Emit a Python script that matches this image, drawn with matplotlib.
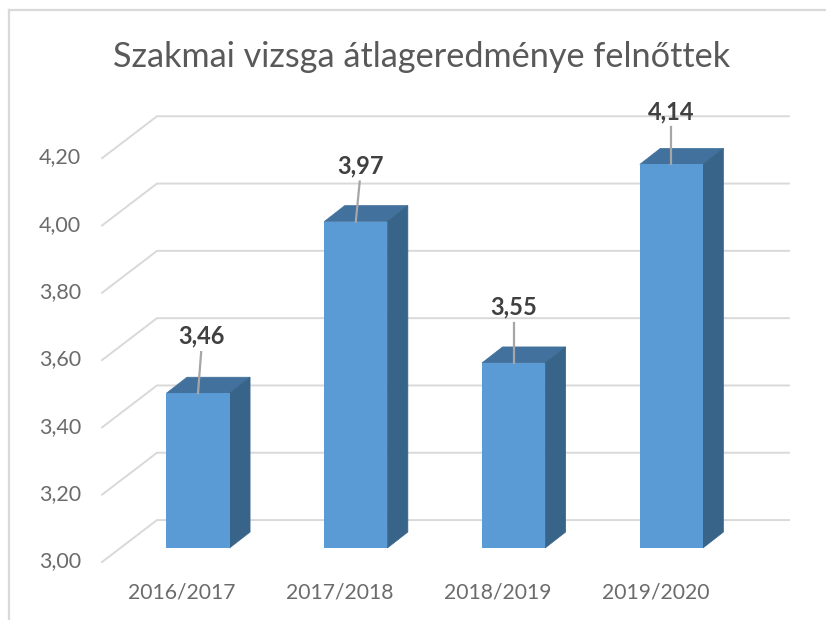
import matplotlib
matplotlib.use('Agg')
import matplotlib.pyplot as plt
from matplotlib.lines import Line2D

plt.rcParams['font.family'] = ['Lato', 'DejaVu Sans']

# data
categories = ['2016/2017', '2017/2018', '2018/2019', '2019/2020']
values = [3.46, 3.97, 3.55, 4.14]
value_labels = ['3,46', '3,97', '3,55', '4,14']
grid_values = [3.0, 3.2, 3.4, 3.6, 3.8, 4.0, 4.2]
grid_labels = ['3,00', '3,20', '3,40', '3,60', '3,80', '4,00', '4,20']

# fake 3D depth, in data units
bar_w = 0.4
bar_dx = 0.13
bar_dy = 0.0475
wall_x0 = -0.608
wall_x1 = -0.26
wall_x2 = 3.745
wall_front = -0.0416
wall_back = 0.083

fig = plt.figure(figsize=(8.26, 6.2), dpi=100, facecolor='white')
ax = fig.add_axes([0, 0, 1, 1])
ax.set_xlim(-1.2548, 3.98)
ax.set_ylim(2.786, 4.6285)
ax.axis('off')

# chart frame
fig.add_artist(Line2D([8.5 / 826, 8.5 / 826], [0, 1 - 10 / 620], color='#d9d9d9', lw=1.6))
fig.add_artist(Line2D([8.5 / 826, 1], [1 - 10 / 620, 1 - 10 / 620], color='#d9d9d9', lw=1.6))

# gridlines on the side wall and back wall
for v, lab in zip(grid_values, grid_labels):
    ax.plot([wall_x0, wall_x1, wall_x2], [v + wall_front, v + wall_back, v + wall_back],
            color='#d9d9d9', lw=1.4, solid_joinstyle='miter', zorder=1)
    ax.text(-0.74, v + wall_front + 0.002, lab, ha='right', va='center', fontsize=15.5, color='#6b6b6b')

for i, (v, cat, lab) in enumerate(zip(values, categories, value_labels)):
    x0 = i - bar_w / 2
    x1 = i + bar_w / 2
    ax.bar(i, v - 3.0, bottom=3.0, width=bar_w, color='#5b9bd5', zorder=3)
    # top face
    ax.fill([x0, x1, x1 + bar_dx, x0 + bar_dx], [v, v, v + bar_dy, v + bar_dy],
            color='#41719c', lw=0.5, zorder=2)
    # side face
    ax.fill([x1, x1 + bar_dx, x1 + bar_dx, x1], [3.0, 3.0 + bar_dy, v + bar_dy, v],
            color='#376488', lw=0.5, zorder=2)
    ax.text(i - 0.1, 2.869, cat, ha='center', va='center', fontsize=15.2, color='#6b6b6b')

# leader lines and value labels
lead_dx = [0.02, 0.025, 0.0, 0.0]
lead_h = [0.122, 0.119, 0.119, 0.11]
label_dx = [0.02, 0.03, 0.0, 0.0]
for i, v in enumerate(values):
    ax.plot([i, i + lead_dx[i]], [v, v + lead_h[i]], color='#a6a6a6', lw=1.6, zorder=4)
    ax.text(i + label_dx[i], v + lead_h[i] + 0.047, value_labels[i], ha='center', va='center',
            fontsize=17, fontweight='bold', color='#404040', zorder=5)

fig.text(422 / 826, 1 - 57 / 620, 'Szakmai vizsga átlageredménye felnőttek', ha='center', va='center',
         fontsize=24.7, color='#595959')

plt.savefig('out.png', dpi=100, facecolor='white')
